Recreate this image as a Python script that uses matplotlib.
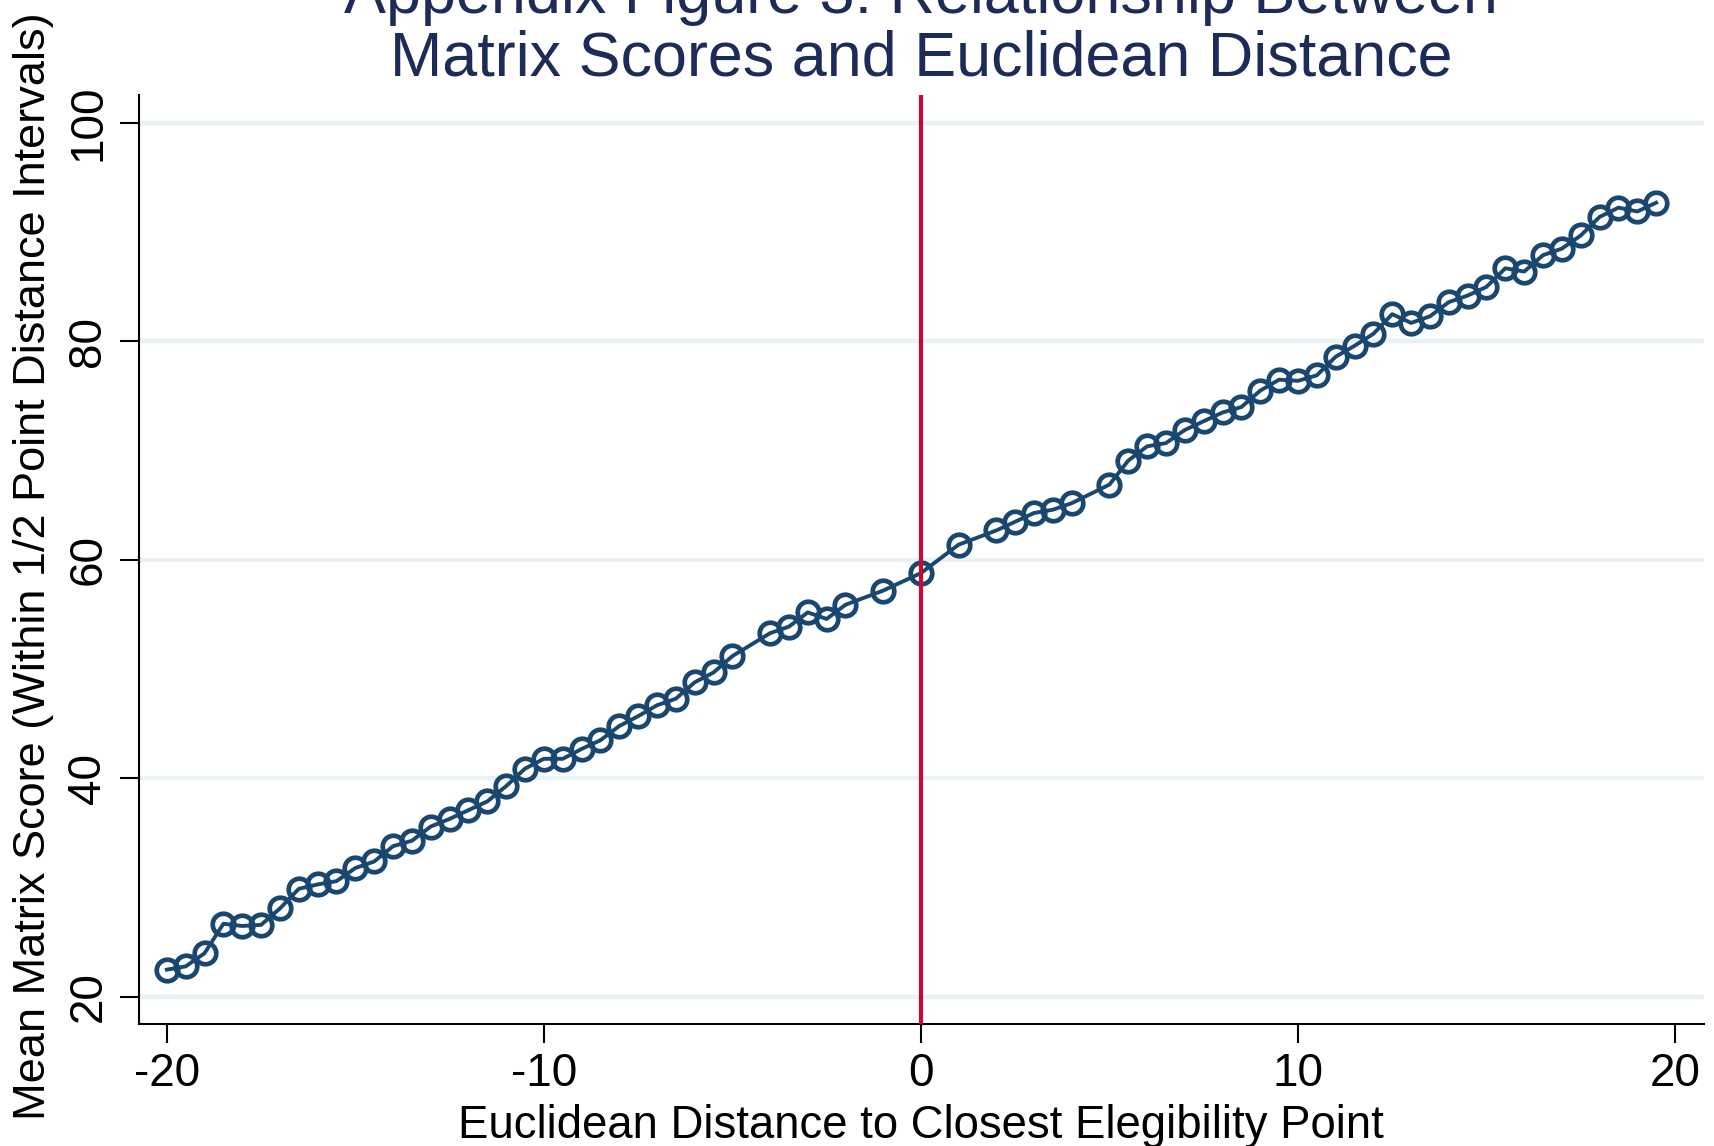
import numpy as np
import matplotlib
matplotlib.use("Agg")
import matplotlib.pyplot as plt

plt.rcParams["font.family"] = ["Liberation Sans", "DejaVu Sans"]
plt.rcParams["axes.unicode_minus"] = False

# binned distance (half-point intervals) and mean matrix score in each bin
distance = [-20, -19.5, -19, -18.5, -18, -17.5, -17, -16.5, -16, -15.5,
            -15, -14.5, -14, -13.5, -13, -12.5, -12, -11.5, -11, -10.5,
            -10, -9.5, -9, -8.5, -8, -7.5, -7, -6.5, -6, -5.5,
            -5, -4, -3.5, -3, -2.5, -2, -1, 0, 1, 2,
            2.5, 3, 3.5, 4, 5, 5.5, 6, 6.5, 7, 7.5,
            8, 8.5, 9, 9.5, 10, 10.5, 11, 11.5, 12, 12.5,
            13, 13.5, 14, 14.5, 15, 15.5, 16, 16.5, 17, 17.5,
            18, 18.5, 19, 19.5]
mean_score = [22.5, 22.8, 24.0, 26.7, 26.5, 26.6, 28.1, 29.9, 30.3, 30.6,
              31.8, 32.4, 33.8, 34.3, 35.6, 36.3, 37.1, 37.9, 39.3, 40.9,
              41.8, 41.8, 42.7, 43.5, 44.8, 45.7, 46.7, 47.3, 48.8, 49.7,
              51.2, 53.3, 53.9, 55.2, 54.6, 55.9, 57.2, 58.8, 61.4, 62.7,
              63.5, 64.3, 64.6, 65.2, 66.9, 69.1, 70.4, 70.7, 71.9, 72.7,
              73.5, 74.0, 75.5, 76.5, 76.4, 76.9, 78.6, 79.6, 80.7, 82.5,
              81.7, 82.3, 83.6, 84.2, 85.0, 86.7, 86.4, 87.9, 88.5, 89.7,
              91.4, 92.25, 91.9, 92.7]

xticks = [-20, -10, 0, 10, 20]
yticks = [20, 40, 60, 80, 100]
cutoff = 0

navy = "#1A476F"
title_col = "#1C2B57"

fig = plt.figure(figsize=(17.15, 11.46), dpi=100)
ax = fig.add_axes([0.0810, 0.1065, 0.9126, 0.8106])

for y in yticks:
    ax.axhline(y, color="#EAF2F3", lw=3.2, zorder=0)

ax.plot(distance, mean_score, color=navy, lw=2.8, marker="o", ms=15.5,
        mfc="none", mec=navy, mew=3.4, zorder=3)
ax.axvline(cutoff, color="#C80A32", lw=3.0, zorder=4)

ax.set_xlim(-20.74, 20.77)
ax.set_ylim(17.53, 102.56)
ax.set_xticks(xticks)
ax.set_yticks(yticks)

for side in ["top", "right"]:
    ax.spines[side].set_visible(False)
for side in ["left", "bottom"]:
    ax.spines[side].set_linewidth(1.5)

ax.tick_params(axis="both", direction="out", length=13.5, width=1.5,
               labelsize=33, pad=7)
ax.tick_params(axis="y", labelrotation=90)
for lab in ax.get_yticklabels():
    lab.set_va("center")

fig.text(0.5370, 0.0070, "Euclidean Distance to Closest Elegibility Point",
         ha="center", va="baseline", fontsize=32.8)
fig.text(0.0195, 0.506, "Mean Matrix Score (Within 1/2 Point Distance Intervals)",
         ha="center", va="center", rotation=90, fontsize=32.5)

fig.text(0.5370, 0.9890, "Appendix Figure 3: Relationship Between",
         ha="center", va="baseline", fontsize=45.3, color=title_col)
fig.text(0.5370, 0.9340, "Matrix Scores and Euclidean Distance",
         ha="center", va="baseline", fontsize=45.3, color=title_col)

fig.savefig("out.png", dpi=100)
